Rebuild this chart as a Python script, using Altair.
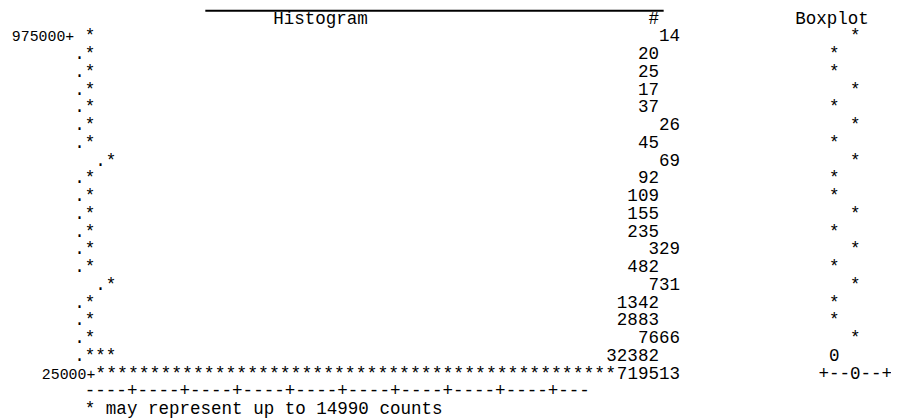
import altair as alt
import pandas as pd

# ---- data read from the listing ----
bin_labels = ["975000"] + [""] * 18 + ["25000"]
counts = [14, 20, 25, 17, 37, 26, 45, 69, 92, 109, 155, 235, 329, 482, 731,
          1342, 2883, 7666, 32382, 719513]
stars = [1] * 18 + [3, 48]
box_glyphs = ["*"] * 18 + ["0", "+--0--+"]
header = ["Histogram", "#", "Boxplot"]
axis_text = "----+" * 9 + "---"
footnote = "* may represent up to 14990 counts"

# ---- listing layout (character columns) ----
hist_start = [0] * 20
hist_start[7] = 2
hist_start[14] = 2
hist_start[19] = 1
count_shift = [2, 0, 0, 0, 0, 2, 0, 2, 0, 0, 0, 0, 2, 0, 2, 0, 0, 2, 0, 2]
box_shift = [2, 0, 0, 2, 0, 2, 0, 2, 0, 0, 2, 0, 2, 0, 2, 0, 0, 2, 0, 2]
label_end = {0: -1.0, 19: 1.0}
COUNT_RIGHT = 54.55
BOX_CENTER = 71.2

left_rows = []   # left aligned text segments
right_rows = []  # right aligned text segments

# header
left_rows.append({"r": 0, "u": 17.9, "t": header[0], "fs": 17.7})
left_rows.append({"r": 0, "u": 53.55, "t": header[1], "fs": 17.7})
left_rows.append({"r": 0, "u": 67.5, "t": header[2], "fs": 17.7})

for i in range(20):
    r = i + 1
    s = hist_start[i]
    if bin_labels[i]:
        right_rows.append({"r": r, "u": label_end[i], "t": bin_labels[i] + "+", "fs": 15})
    else:
        left_rows.append({"r": r, "u": s - 1, "t": ".", "fs": 17.7})
    left_rows.append({"r": r, "u": s, "t": "*" * stars[i], "fs": 18.25 if stars[i] > 3 else 17.7})
    right_rows.append({"r": r, "u": COUNT_RIGHT + count_shift[i], "t": str(counts[i]), "fs": 17.7})
    g = box_glyphs[i]
    left_rows.append({"r": r, "u": BOX_CENTER + box_shift[i] - 0.5 - len(g) // 2, "t": g, "fs": 17.7})

left_rows.append({"r": 21, "u": 0, "t": axis_text, "fs": 17.7})
left_rows.append({"r": 22, "u": 0, "t": footnote, "fs": 17.7})

left_df = pd.DataFrame(left_rows)
right_df = pd.DataFrame(right_rows)
rule_df = pd.DataFrame({"u": [11.45], "u2": [55.0]})

xs = alt.Scale(domain=[-7.298, 76.60], nice=False, zero=False)
ys = alt.Scale(domain=[-0.5028, 22.458], nice=False, zero=False, reverse=True)
FONT = "Liberation Mono, Courier New, monospace"

left = alt.Chart(left_df).mark_text(
    align="left", baseline="middle", font=FONT, color="#000000"
).encode(
    x=alt.X("u:Q", scale=xs, axis=None),
    y=alt.Y("r:Q", scale=ys, axis=None),
    text="t:N",
    size=alt.Size("fs:Q", scale=None, legend=None),
)

right = alt.Chart(right_df).mark_text(
    align="right", baseline="middle", font=FONT, color="#000000"
).encode(
    x=alt.X("u:Q", scale=xs, axis=None),
    y=alt.Y("r:Q", scale=ys, axis=None),
    text="t:N",
    size=alt.Size("fs:Q", scale=None, legend=None),
)

rule = alt.Chart(rule_df).mark_rule(color="#000000", strokeWidth=2).encode(
    x=alt.X("u:Q", scale=xs, axis=None),
    x2="u2:Q",
    y=alt.value(1),
)

chart = alt.layer(rule, left, right).properties(
    width=891, height=411, autosize=alt.AutoSizeParams(type="none"), padding=0,
    background="white"
).configure_view(stroke=None)

chart.save("out.html", embed_options={"renderer": "svg", "actions": False})
